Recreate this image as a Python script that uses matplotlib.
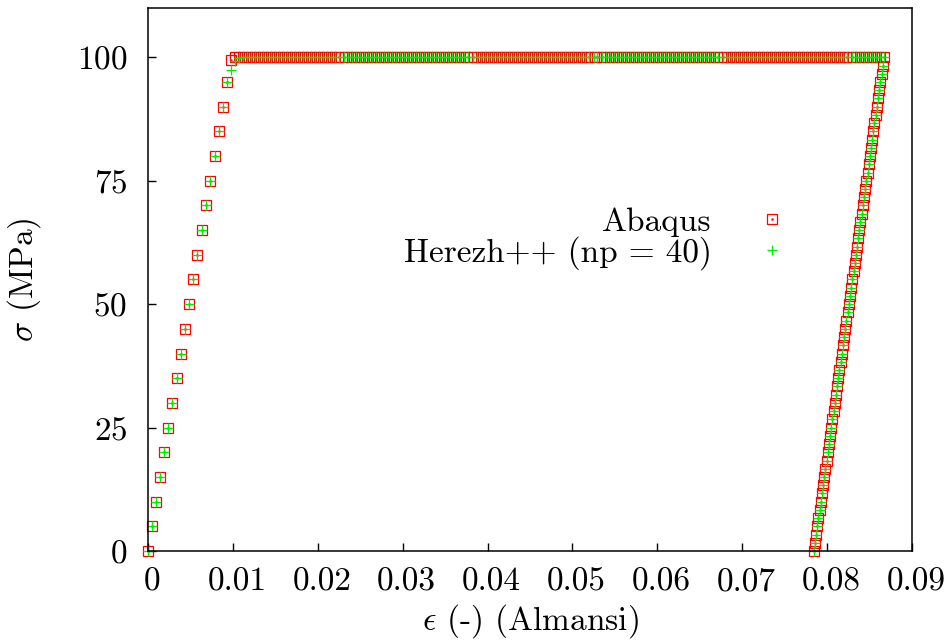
import numpy as np
import matplotlib as mpl
import matplotlib.pyplot as plt
import matplotlib.transforms as mtrans

plt.rcParams.update({'font.family': 'cmr10', 'mathtext.fontset': 'cm',
                     'axes.unicode_minus': False, 'axes.formatter.use_mathtext': True,
                     'font.size': 24})

# elastic loading (both codes share these points)
load_x = [0.0, 0.00045, 0.00094, 0.00142, 0.00191, 0.00239, 0.00287, 0.00336, 0.00384, 0.00433,
          0.00484, 0.00533, 0.00581, 0.00630, 0.00683, 0.00735, 0.00784, 0.00832, 0.00880, 0.00929]
load_y = [0, 5, 10, 15, 20, 25, 30, 35, 40, 45, 50, 55, 60, 65, 70, 75, 80, 85, 90, 95]

# transition to plateau
abq_knee_x = [0.00973]
abq_knee_y = [99.5]
hz_knee_x = [0.00980]
hz_knee_y = [97.4]

# plastic plateau
plat_x = [0.01020, 0.01068, 0.01115, 0.01163, 0.01210, 0.01258, 0.01305, 0.01353,
          0.01400, 0.01448, 0.01495, 0.01543, 0.01590, 0.01638, 0.01685, 0.01733,
          0.01780, 0.01828, 0.01875, 0.01923, 0.01970, 0.02018, 0.02065, 0.02113,
          0.02160, 0.02208, 0.02255, 0.02303, 0.02350, 0.02398, 0.02445, 0.02493,
          0.02540, 0.02588, 0.02635, 0.02683, 0.02730, 0.02778, 0.02825, 0.02873,
          0.02920, 0.02968, 0.03015, 0.03063, 0.03110, 0.03158, 0.03205, 0.03253,
          0.03300, 0.03348, 0.03395, 0.03443, 0.03490, 0.03538, 0.03585, 0.03633,
          0.03680, 0.03728, 0.03775, 0.03823, 0.03870, 0.03918, 0.03965, 0.04013,
          0.04060, 0.04108, 0.04155, 0.04203, 0.04250, 0.04298, 0.04345, 0.04393,
          0.04440, 0.04488, 0.04535, 0.04583, 0.04630, 0.04678, 0.04725, 0.04773,
          0.04820, 0.04868, 0.04915, 0.04963, 0.05010, 0.05058, 0.05105, 0.05153,
          0.05200, 0.05248, 0.05295, 0.05343, 0.05390, 0.05438, 0.05485, 0.05533,
          0.05580, 0.05628, 0.05675, 0.05723, 0.05770, 0.05818, 0.05865, 0.05913,
          0.05960, 0.06008, 0.06055, 0.06103, 0.06150, 0.06198, 0.06245, 0.06293,
          0.06340, 0.06388, 0.06435, 0.06483, 0.06530, 0.06578, 0.06625, 0.06673,
          0.06720, 0.06768, 0.06815, 0.06863, 0.06910, 0.06958, 0.07005, 0.07053,
          0.07100, 0.07148, 0.07195, 0.07243, 0.07290, 0.07338, 0.07385, 0.07433,
          0.07480, 0.07528, 0.07575, 0.07623, 0.07670, 0.07718, 0.07765, 0.07813,
          0.07860, 0.07908, 0.07955, 0.08003, 0.08050, 0.08098, 0.08145, 0.08193,
          0.08240, 0.08288, 0.08335, 0.08383, 0.08430, 0.08478, 0.08525, 0.08573,
          0.08620, 0.08668]
abq_plat_y = [100.0] * len(plat_x)
hz_plat_y = [99.2, 99.8] + [100.0] * (len(plat_x) - 2)

# elastic unloading
unl_x = [0.08654, 0.08641, 0.08627, 0.08613, 0.08599, 0.08586, 0.08572, 0.08558, 0.08544, 0.08531,
         0.08517, 0.08503, 0.08489, 0.08476, 0.08462, 0.08448, 0.08434, 0.08421, 0.08407, 0.08393,
         0.08379, 0.08366, 0.08352, 0.08338, 0.08324, 0.08311, 0.08297, 0.08283, 0.08269, 0.08256,
         0.08242, 0.08228, 0.08214, 0.08201, 0.08187, 0.08173, 0.08159, 0.08146, 0.08132, 0.08118,
         0.08104, 0.08091, 0.08077, 0.08063, 0.08049, 0.08036, 0.08022, 0.08008, 0.07994, 0.07981,
         0.07967, 0.07953, 0.07939, 0.07926, 0.07912, 0.07898, 0.07884, 0.07871, 0.07857, 0.07843]
unl_y = [98.33, 96.67, 95.00, 93.33, 91.67, 90.00, 88.33, 86.67, 85.00, 83.33,
         81.67, 80.00, 78.33, 76.67, 75.00, 73.33, 71.67, 70.00, 68.33, 66.67,
         65.00, 63.33, 61.67, 60.00, 58.33, 56.67, 55.00, 53.33, 51.67, 50.00,
         48.33, 46.67, 45.00, 43.33, 41.67, 40.00, 38.33, 36.67, 35.00, 33.33,
         31.67, 30.00, 28.33, 26.67, 25.00, 23.33, 21.67, 20.00, 18.33, 16.67,
         15.00, 13.33, 11.67, 10.00, 8.33, 6.67, 5.00, 3.33, 1.67, 0.00]

xticks = [0, 0.01, 0.02, 0.03, 0.04, 0.05, 0.06, 0.07, 0.08, 0.09]
xticklabels = ['0', '0.01', '0.02', '0.03', '0.04', '0.05', '0.06', '0.07', '0.08', '0.09']
yticks = [0, 25, 50, 75, 100]

abq_x = np.array(load_x + abq_knee_x + plat_x + unl_x)
abq_y = np.array(load_y + abq_knee_y + abq_plat_y + unl_y)
hz_x = np.array(load_x + hz_knee_x + plat_x + unl_x)
hz_y = np.array(load_y + hz_knee_y + hz_plat_y + unl_y)

fig = plt.figure(figsize=(9.49, 6.43), dpi=100)
ax = fig.add_axes([0.156, 0.1431, 0.805, 0.8445])

sq, = ax.plot(abq_x, abq_y, 's', ls='none', mfc='none', mec='#ff0000', ms=6.6, mew=0.9, clip_on=False)
dot, = ax.plot(abq_x, abq_y, 's', ls='none', mfc='#ff0000', mec='#ff0000', ms=1.2, mew=0.3, clip_on=False)
pl, = ax.plot(hz_x, hz_y, '+', ls='none', color='#00ee00', ms=7.5, mew=0.9, clip_on=False)

ax.set_xlim(0, 0.09)
ax.set_ylim(0, 110)
ax.set_xticks(xticks)
ax.set_xticklabels(xticklabels)
ax.set_yticks(yticks)
ax.tick_params(direction='in', length=6, width=1.0, pad=12, top=False, right=False)
ax.tick_params(axis='y', pad=15)
off = mtrans.ScaledTranslation(4/100, 0, fig.dpi_scale_trans)
for t in ax.get_xticklabels():
    t.set_transform(t.get_transform() + off)
for s in ax.spines.values():
    s.set_linewidth(1.1)

ax.set_xlabel(r'$\epsilon$ (-) (Almansi)', labelpad=4)
ax.set_ylabel(r'$\sigma$ (MPa)', labelpad=24)

ax.legend([(sq, dot), pl], ['Abaqus', 'Herezh++ (np = 40)'], loc='center right',
          bbox_to_anchor=(0.882, 0.575), frameon=False, markerfirst=False, numpoints=1,
          handlelength=2.0, handletextpad=0.8, labelspacing=-0.03, borderpad=0)

fig.savefig('out.png', dpi=100)
